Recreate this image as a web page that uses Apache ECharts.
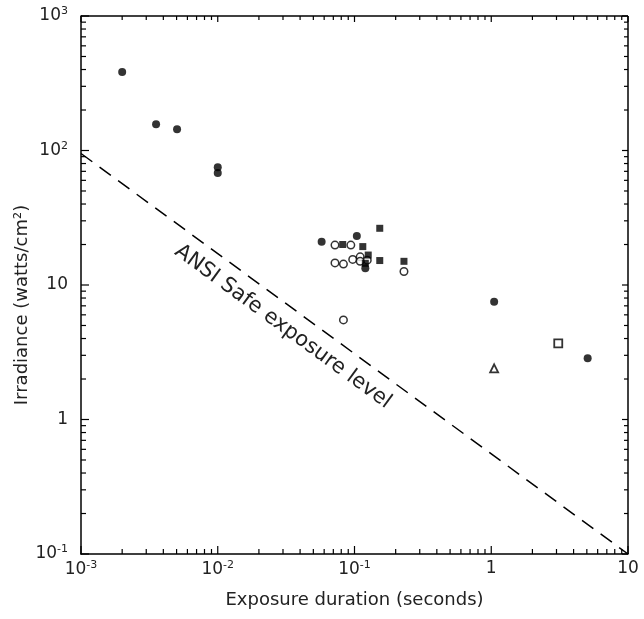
<!DOCTYPE html>
<html><head><meta charset="utf-8">
<script src="https://cdn.jsdelivr.net/npm/echarts@6/dist/echarts.min.js"></script>
<style>html,body{margin:0;padding:0;background:#fff}#c{width:644px;height:619px}</style>
</head><body><div id="c"></div>
<script>
// ---- data ----
const xTicks = [0.001, 0.01, 0.1, 1, 10];
const yTicks = [0.1, 1, 10, 100, 1000];
const filledCircles = [[0.002,384],[0.00354,157],[0.00504,144],[0.01,75],[0.01,68],[0.0575,21],[0.104,23.1],[0.12,13.3],[1.05,7.5],[5.07,2.85]];
const openCircles = [[0.072,19.8],[0.094,19.8],[0.097,15.5],[0.11,16.2],[0.124,15.3],[0.11,15.0],[0.072,14.6],[0.083,14.3],[0.23,12.6],[0.083,5.5]];
const filledSquares = [[0.153,26.4],[0.082,20],[0.115,19.3],[0.126,16.7],[0.12,14.5],[0.153,15.2],[0.23,15.0]];
const openSquares = [[3.09,3.68]];
const openTriangles = [[1.05,2.4]];
const ansiLine = [[0.001,95],[10,0.1]];
const ansiLabel = 'ANSI Safe exposure level';
const xTitle = 'Exposure duration (seconds)';
const yTitle = 'Irradiance (watts/cm\u00B2)';

const minorX = [], minorY = [];
[0.001,0.01,0.1,1].forEach(d=>{for(let k=2;k<=9;k++)minorX.push(d*k);});
[0.1,1,10,100].forEach(d=>{for(let k=2;k<=9;k++)minorY.push(d*k);});

const INK = '#000';
const TXT = '#222';
const FONT = 'DejaVu Sans';
function fmt(v){
  const e = Math.round(Math.log10(v));
  if (e === 0) return '1';
  if (e === 1) return '10';
  return '10{sup|' + e + '}';
}
const rich = { sup: { fontSize: 11, fontFamily: FONT, color: TXT, padding: [0,0,9,0] } };

// tick list built from the tick arrays: [x, y, isMajor, axis(0=x,1=y)]
const tickRows = [];
xTicks.forEach(v=>tickRows.push([v, 0.1, 1, 0]));
minorX.forEach(v=>tickRows.push([v, 0.1, 0, 0]));
yTicks.forEach(v=>tickRows.push([0.001, v, 1, 1]));
minorY.forEach(v=>tickRows.push([0.001, v, 0, 1]));

const chart = echarts.init(document.getElementById('c'), null, {renderer:'canvas'});
const option = {
  backgroundColor: '#fff',
  animation: false,
  grid: { left: 81, right: 16, top: 16, bottom: 65, show: false },
  xAxis: {
    type: 'log', min: 0.001, max: 10, logBase: 10,
    name: xTitle, nameLocation: 'middle', nameGap: 37,
    nameTextStyle: { fontSize: 18, fontFamily: FONT, color: TXT },
    axisLine: { show: true, onZero: false, lineStyle: { color: INK, width: 1.5 } },
    axisTick: { show: false },
    splitLine: { show: false },
    axisLabel: { formatter: fmt, rich, fontSize: 17, fontFamily: FONT, color: TXT, margin: 6 }
  },
  yAxis: {
    type: 'log', min: 0.1, max: 1000, logBase: 10,
    axisLine: { show: true, onZero: false, lineStyle: { color: INK, width: 1.5 } },
    axisTick: { show: false },
    splitLine: { show: false },
    axisLabel: { formatter: fmt, rich, fontSize: 17, fontFamily: FONT, color: TXT, margin: 13 }
  },
  series: [
    { type: 'line', data: ansiLine, symbol: 'none', silent: true,
      lineStyle: { color: INK, width: 1.5, type: [14, 9] } },
    { type: 'scatter', data: filledCircles, symbol: 'circle', symbolSize: 8,
      itemStyle: { color: INK } },
    { type: 'scatter', data: openCircles, symbol: 'circle', symbolSize: 7.5,
      itemStyle: { color: '#fff', borderColor: INK, borderWidth: 1.5 } },
    { type: 'scatter', data: filledSquares, symbol: 'rect', symbolSize: 7,
      itemStyle: { color: INK } },
    { type: 'scatter', data: openSquares, symbol: 'rect', symbolSize: 8,
      itemStyle: { color: '#fff', borderColor: INK, borderWidth: 1.8 } },
    { type: 'scatter', data: openTriangles, symbol: 'triangle', symbolSize: 8,
      itemStyle: { color: '#fff', borderColor: INK, borderWidth: 1.8 } },
    { type: 'custom', data: tickRows, silent: true, clip: false,
      encode: { x: 0, y: 1 },
      renderItem: function(params, api){
        const major = api.value(2) === 1, ax = api.value(3);
        const L = major ? 8 : 5, L2 = major ? 6 : 4;
        const st = { stroke: INK, lineWidth: 1.2 };
        if (ax === 0) {
          const v = api.value(0);
          const b = api.coord([v, 0.1]), t = api.coord([v, 1000]);
          return { type: 'group', children: [
            { type: 'line', shape: { x1: b[0], y1: b[1], x2: b[0], y2: b[1]-L }, style: st },
            { type: 'line', shape: { x1: t[0], y1: t[1], x2: t[0], y2: t[1]+L2 }, style: st }
          ]};
        } else {
          const v = api.value(1);
          const l = api.coord([0.001, v]), r = api.coord([10, v]);
          return { type: 'group', children: [
            { type: 'line', shape: { x1: l[0], y1: l[1], x2: l[0]+L, y2: l[1] }, style: st },
            { type: 'line', shape: { x1: r[0], y1: r[1], x2: r[0]-L2, y2: r[1] }, style: st }
          ]};
        }
      } }
  ]
};
chart.setOption(option);

const p0 = chart.convertToPixel({gridIndex:0}, [0.001, 1000]);
const p1 = chart.convertToPixel({gridIndex:0}, [10, 0.1]);
const a = chart.convertToPixel({gridIndex:0}, ansiLine[0]);
const b = chart.convertToPixel({gridIndex:0}, ansiLine[1]);
const ang = Math.atan2(b[1]-a[1], b[0]-a[0]);
const mid = chart.convertToPixel({gridIndex:0}, [0.0300, 4.9]);
chart.setOption({
  graphic: [
    { type: 'line', shape: { x1: p0[0], y1: p0[1], x2: p1[0], y2: p0[1] }, style: { stroke: INK, lineWidth: 1.5 } },
    { type: 'line', shape: { x1: p1[0], y1: p0[1], x2: p1[0], y2: p1[1] }, style: { stroke: INK, lineWidth: 1.5 } },
    { type: 'text', x: mid[0], y: mid[1], rotation: -ang,
      style: { text: ansiLabel, font: '21px "DejaVu Sans"', fill: TXT, align: 'center', verticalAlign: 'middle' } },
    { type: 'text', x: 22, y: 305, rotation: Math.PI/2,
      style: { text: yTitle, font: '18px "DejaVu Sans"', fill: TXT, align: 'center', verticalAlign: 'middle' } }
  ]
});
</script></body></html>
